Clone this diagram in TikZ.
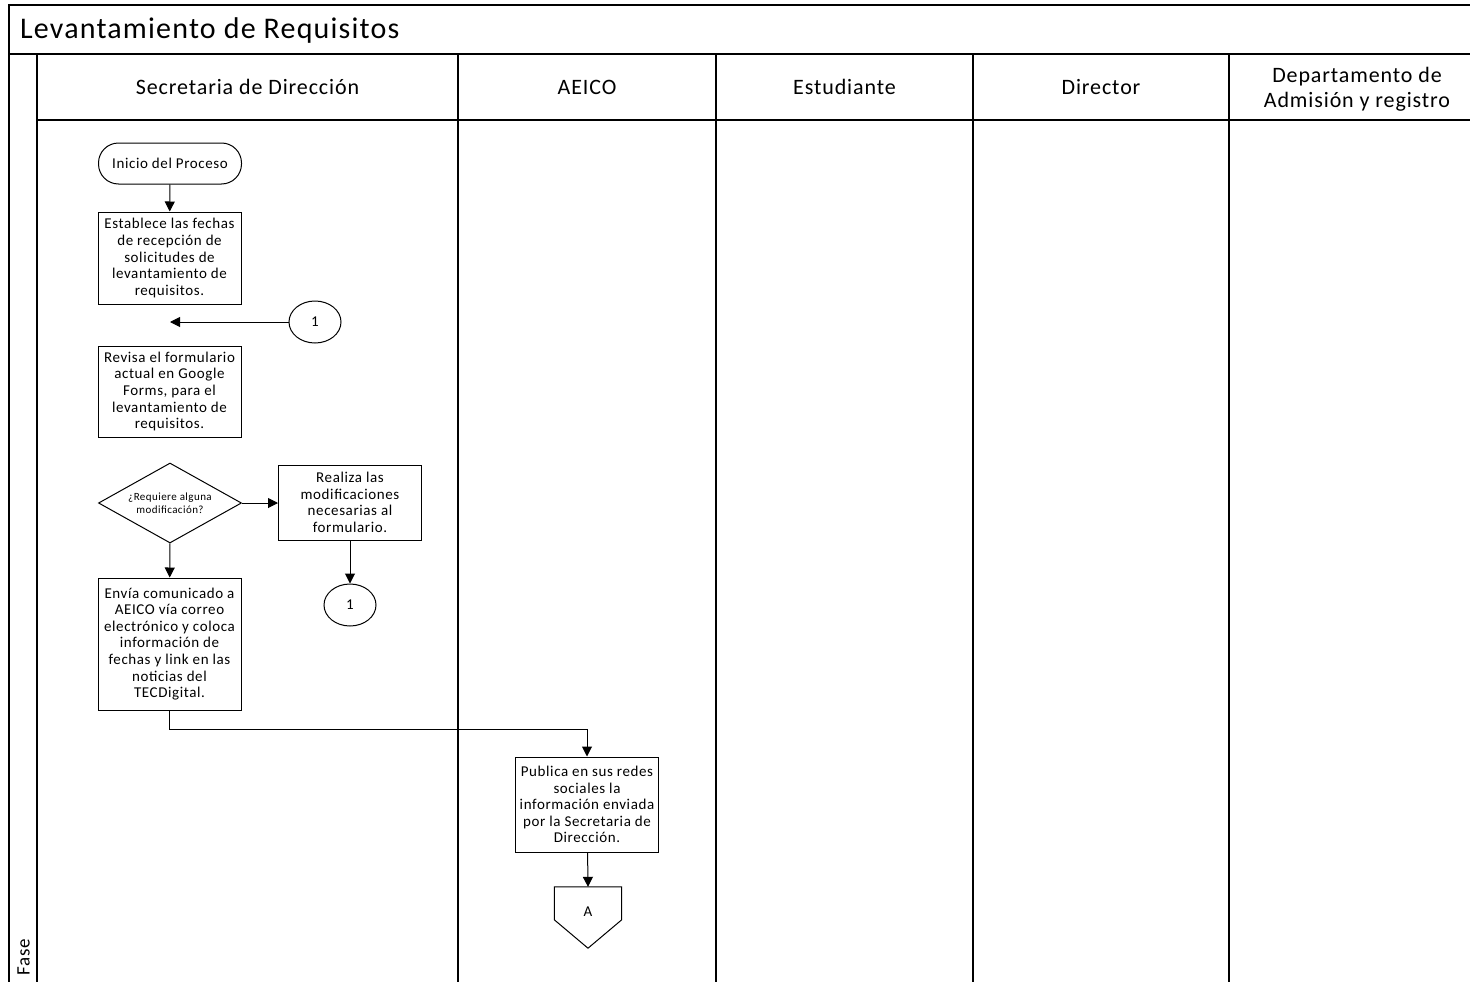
\documentclass[tikz,border=0pt]{standalone}
\usepackage{fontspec}
\setmainfont{Carlito}[LetterSpace=4]
\usetikzlibrary{arrows.meta,shapes.geometric,calc}
\begin{document}
\begin{tikzpicture}[x=1pt,y=-1pt,
  frame/.style={line width=1.6pt},
  conn/.style={line width=1pt,-{Triangle[length=10pt,width=10pt]}},
  boxtext/.style={font=\fontsize{15}{16.6}\selectfont},
  proc/.style={draw,line width=1pt,minimum width=143,inner sep=0pt,align=center,boxtext},
  startbox/.style={draw,line width=1pt,rounded corners=20pt,minimum width=143,minimum height=41,inner sep=0pt,boxtext},
  decision/.style={draw,line width=1pt,diamond,aspect=1.8,minimum width=143,minimum height=80,inner sep=0pt,align=center,font=\fontsize{11}{13}\selectfont},
  onpage/.style={draw,line width=1pt,ellipse,minimum width=52,minimum height=42,inner sep=0pt,font=\fontsize{15}{17}\selectfont},
  lanehead/.style={font=\fontsize{22}{25}\selectfont,align=center},
]
\useasboundingbox (0,0) rectangle (1470,982);

% pool frame, title band and lane header band
\draw[frame] (9,1000) -- (9,5) -- (1500,5);
\draw[frame] (9,54) -- (1500,54);
\draw[frame] (37,54) -- (37,1000);
\draw[frame] (37,120) -- (1500,120);
\foreach \lx in {458,716,973,1229}
  \draw[frame] (\lx,54) -- (\lx,1000);

\node[anchor=west,inner sep=0pt,font=\fontsize{30}{34}\selectfont] (title) at (20,31) {Levantamiento de Requisitos};
\node[rotate=90,anchor=west,inner sep=0pt,font=\fontsize{19}{21}\selectfont] (fase) at (23.5,976) {Fase};

% lane headers
\node[lanehead] (hsec) at (247.5,87) {Secretaria de Dirección};
\node[lanehead] (haei) at (587,87) {AEICO};
\node[lanehead] (hest) at (844.5,87) {Estudiante};
\node[lanehead] (hdir) at (1101,87) {Director};
\node[lanehead] (hdep) at (1357,89) {Departamento de\\Admisión y registro};

% Secretaria de Dirección
\node[startbox] (inicio) at (170,163.5) {Inicio del Proceso};
\node[proc,minimum height=92] (establece) at (169.5,258)
  {Establece las fechas\\de recepción de\\solicitudes de\\levantamiento de\\requisitos.};
\node[onpage] (cona) at (315,322) {1};
\coordinate (retorno) at (170,322);
\node[proc,minimum height=91] (revisa) at (169.5,391.5)
  {Revisa el formulario\\actual en Google\\Forms, para el\\levantamiento de\\requisitos.};
\node[decision] (dec) at (170,503) {¿Requiere alguna\\modificación?};
\node[proc,minimum height=75] (realiza) at (350,502.5)
  {Realiza las\\modificaciones\\necesarias al\\formulario.};
\node[onpage] (conb) at (350,605) {1};
\node[proc,minimum height=132] (envia) at (169.5,644)
  {Envía comunicado a\\AEICO vía correo\\electrónico y coloca\\información de\\fechas y link en las\\noticias del\\TECDigital.};

% AEICO
\node[proc,minimum height=95] (publica) at (587,804.5)
  {Publica en sus redes\\sociales la\\información enviada\\por la Secretaria de\\Dirección.};
\node[minimum width=67,minimum height=61,inner sep=0pt] (offa) at (588,917.5) {};
\draw[line width=1pt] (offa.north west) -- (offa.north east) -- ($(offa.north east)+(0,33)$)
  -- (offa.south) -- ($(offa.north west)+(0,33)$) -- cycle;
\node[font=\fontsize{15}{17}\selectfont] (offalabel) at (588,912) {A};

% connectors
\draw[conn] (inicio) -- (establece);
\draw[conn] (cona) -- (retorno);
\draw[conn] (dec.east) -- (dec.east -| realiza.west);
\draw[conn] (realiza) -- (conb);
\draw[conn] (dec) -- (envia);
\draw[conn] (envia.south) -- ++(0,19) -| (publica.north);
\draw[conn] (publica) -- (offa.north);
\end{tikzpicture}
\end{document}
